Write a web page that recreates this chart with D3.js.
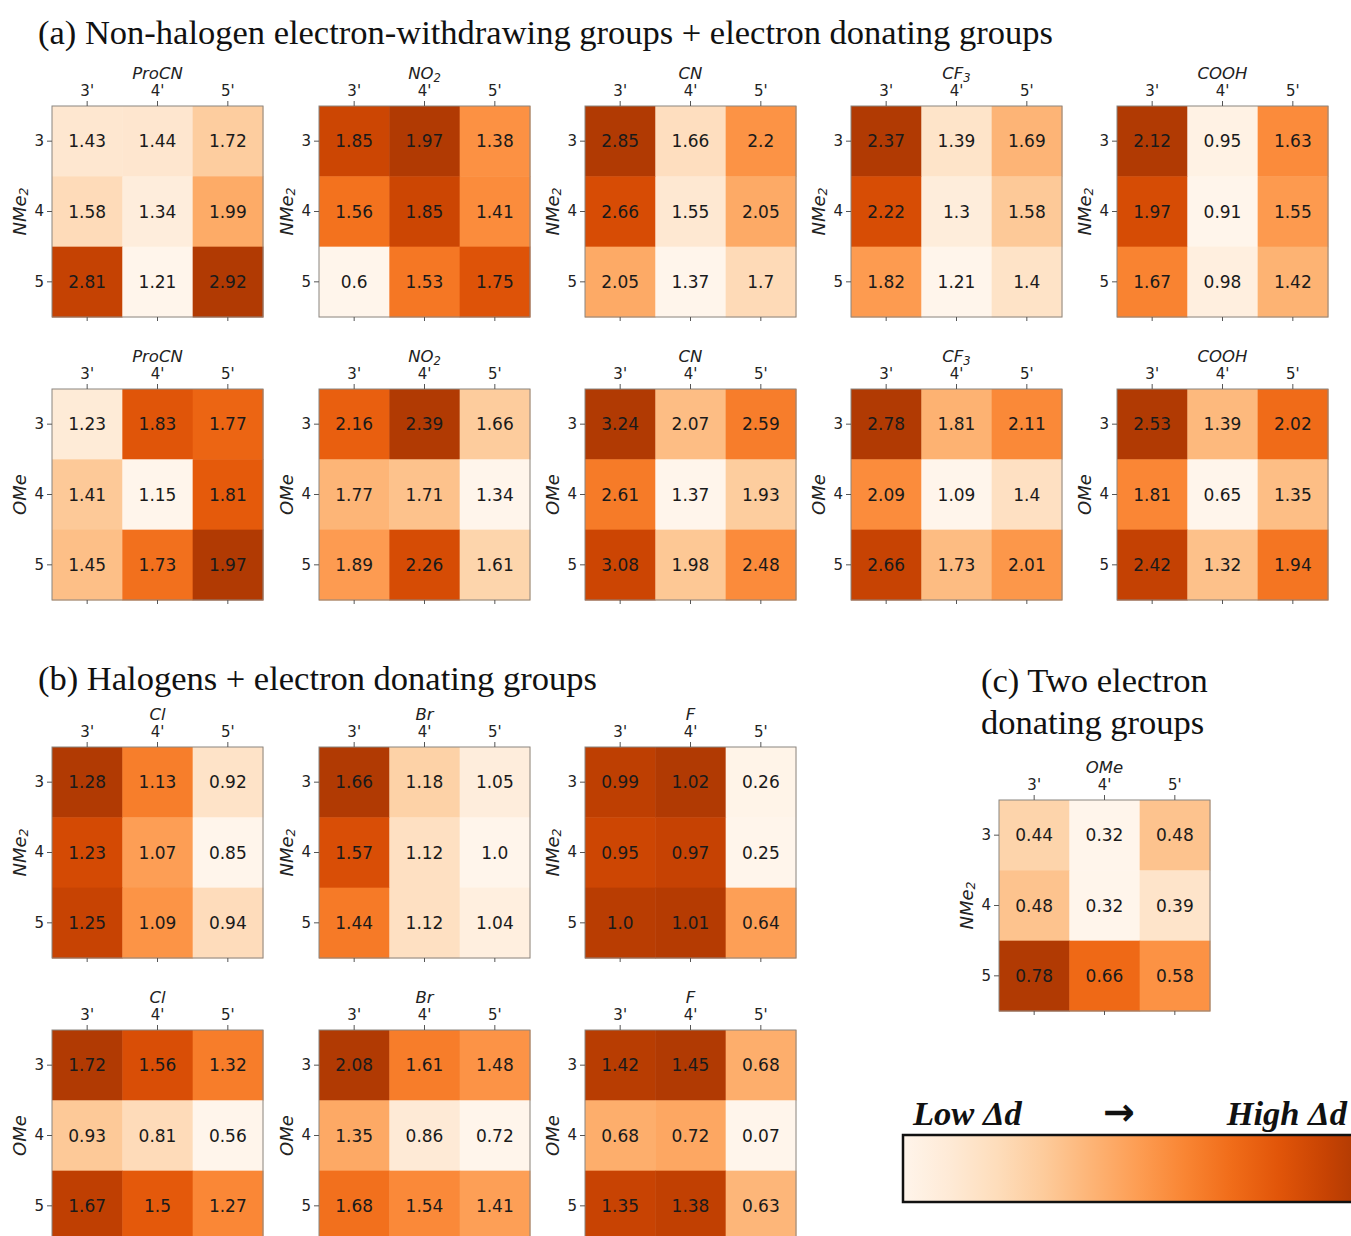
<!DOCTYPE html>
<html>
<head>
<meta charset="utf-8">
<script src="https://cdn.jsdelivr.net/npm/d3@7"></script>
<style>
  body { margin: 0; background: #fff; }
  svg { display: block; }
  .cell-text { font-family: "DejaVu Sans", sans-serif; font-size: 17px; fill: #1a1a1a; }
  .tick text { font-family: "DejaVu Sans", sans-serif; font-size: 15px; fill: #222; }
  .tick line { stroke: #555; }
  .domain { display: none; }
  .sub-title { font-family: "DejaVu Sans", sans-serif; font-style: italic; font-size: 16.5px; fill: #222; }
  .y-label { font-family: "DejaVu Sans", sans-serif; font-style: italic; font-size: 18px; fill: #222; }
  .sec-title { font-family: "Liberation Serif", "Times New Roman", serif; font-size: 34.5px; fill: #111; }
  .bar-label { font-family: "Liberation Serif", "Times New Roman", serif; font-size: 34.5px; font-weight: bold; font-style: italic; fill: #111; }
  .bar-arrow { font-family: "DejaVu Sans", sans-serif; font-size: 38px; font-weight: bold; fill: #111; }
</style>
</head>
<body>
<svg id="chart" width="1351" height="1236"></svg>
<script>
// Ring positions on each axis
const rowLabels = ["3", "4", "5"];
const colLabels = ["3'", "4'", "5'"];

// (a) Non-halogen electron-withdrawing groups, paired with NMe2
const procnNMe2 = [[1.43, 1.44, 1.72], [1.58, 1.34, 1.99], [2.81, 1.21, 2.92]];
const no2NMe2   = [[1.85, 1.97, 1.38], [1.56, 1.85, 1.41], [0.6, 1.53, 1.75]];
const cnNMe2    = [[2.85, 1.66, 2.2], [2.66, 1.55, 2.05], [2.05, 1.37, 1.7]];
const cf3NMe2   = [[2.37, 1.39, 1.69], [2.22, 1.3, 1.58], [1.82, 1.21, 1.4]];
const coohNMe2  = [[2.12, 0.95, 1.63], [1.97, 0.91, 1.55], [1.67, 0.98, 1.42]];

// (a) ... paired with OMe
const procnOMe = [[1.23, 1.83, 1.77], [1.41, 1.15, 1.81], [1.45, 1.73, 1.97]];
const no2OMe   = [[2.16, 2.39, 1.66], [1.77, 1.71, 1.34], [1.89, 2.26, 1.61]];
const cnOMe    = [[3.24, 2.07, 2.59], [2.61, 1.37, 1.93], [3.08, 1.98, 2.48]];
const cf3OMe   = [[2.78, 1.81, 2.11], [2.09, 1.09, 1.4], [2.66, 1.73, 2.01]];
const coohOMe  = [[2.53, 1.39, 2.02], [1.81, 0.65, 1.35], [2.42, 1.32, 1.94]];

// (b) Halogens, paired with NMe2 and OMe
const clNMe2 = [[1.28, 1.13, 0.92], [1.23, 1.07, 0.85], [1.25, 1.09, 0.94]];
const brNMe2 = [[1.66, 1.18, 1.05], [1.57, 1.12, 1.0], [1.44, 1.12, 1.04]];
const fNMe2  = [[0.99, 1.02, 0.26], [0.95, 0.97, 0.25], [1.0, 1.01, 0.64]];
const clOMe  = [[1.72, 1.56, 1.32], [0.93, 0.81, 0.56], [1.67, 1.5, 1.27]];
const brOMe  = [[2.08, 1.61, 1.48], [1.35, 0.86, 0.72], [1.68, 1.54, 1.41]];
const fOMe   = [[1.42, 1.45, 0.68], [0.68, 0.72, 0.07], [1.35, 1.38, 0.63]];

// (c) Two electron donating groups
const omeNMe2 = [[0.44, 0.32, 0.48], [0.48, 0.32, 0.39], [0.78, 0.66, 0.58]];

const svg = d3.select("#chart");
const SIZE = 211;
const SPAN = 0.85; // portion of the Oranges ramp in use

// Section headings
svg.append("text").attr("class", "sec-title").attr("x", 38).attr("y", 44)
  .text("(a) Non-halogen electron-withdrawing groups + electron donating groups");
svg.append("text").attr("class", "sec-title").attr("x", 38).attr("y", 690)
  .text("(b) Halogens + electron donating groups");
svg.append("text").attr("class", "sec-title").attr("x", 981).attr("y", 692)
  .text("(c) Two electron");
svg.append("text").attr("class", "sec-title").attr("x", 981).attr("y", 734)
  .text("donating groups");

// Label with an optional subscript, e.g. ["NO", "2"]
function labelWithSub(sel, parts) {
  sel.append("tspan").text(parts[0]);
  if (parts[1]) {
    sel.append("tspan").attr("baseline-shift", "-25%").attr("font-size", "0.7em").text(parts[1]);
  }
}

// Same number formatting as Python's str(round(v, 2))
function fmt(v) {
  const s = String(Math.round(v * 100) / 100);
  return s.includes(".") ? s : s + ".0";
}

function heatmap(x0, y0, data, title, ylab) {
  const g = svg.append("g").attr("transform", `translate(${x0},${y0})`);
  const x = d3.scaleBand().domain(colLabels).range([0, SIZE]);
  const y = d3.scaleBand().domain(rowLabels).range([0, SIZE]);
  const flat = data.flat();
  const color = d3.scaleSequential(t => d3.interpolateOranges(t * SPAN))
    .domain(d3.extent(flat));

  const cells = [];
  data.forEach((row, i) => row.forEach((v, j) => cells.push({ r: rowLabels[i], c: colLabels[j], v })));

  g.selectAll("rect.cell").data(cells).join("rect")
    .attr("class", "cell")
    .attr("x", d => x(d.c)).attr("y", d => y(d.r))
    .attr("width", x.bandwidth() + 0.5).attr("height", y.bandwidth() + 0.5)
    .attr("fill", d => color(d.v));

  g.selectAll("text.cell-text").data(cells).join("text")
    .attr("class", "cell-text")
    .attr("x", d => x(d.c) + x.bandwidth() / 2)
    .attr("y", d => y(d.r) + y.bandwidth() / 2)
    .attr("text-anchor", "middle").attr("dominant-baseline", "central")
    .text(d => fmt(d.v));

  // frame
  g.append("rect").attr("width", SIZE).attr("height", SIZE)
    .attr("fill", "none").attr("stroke", "#8a8580").attr("stroke-width", 1);

  g.append("g").call(d3.axisTop(x).tickSize(5).tickPadding(5));
  g.append("g").call(d3.axisLeft(y).tickSize(5).tickPadding(3));
  g.append("g").attr("transform", `translate(0,${SIZE})`)
    .call(d3.axisBottom(x).tickSize(4).tickFormat(""));

  const t = g.append("text").attr("class", "sub-title")
    .attr("x", SIZE / 2).attr("y", -27).attr("text-anchor", "middle");
  labelWithSub(t, title);

  const yl = g.append("text").attr("class", "y-label")
    .attr("transform", `translate(-31,${SIZE / 2}) rotate(-90)`)
    .attr("text-anchor", "middle").attr("dominant-baseline", "middle");
  labelWithSub(yl, ylab);
}

const colX = [52, 319, 585, 851, 1117];
const NME2 = ["NMe", "2"], OME = ["OMe"];

// (a)
heatmap(colX[0], 106, procnNMe2, ["ProCN"], NME2);
heatmap(colX[1], 106, no2NMe2, ["NO", "2"], NME2);
heatmap(colX[2], 106, cnNMe2, ["CN"], NME2);
heatmap(colX[3], 106, cf3NMe2, ["CF", "3"], NME2);
heatmap(colX[4], 106, coohNMe2, ["COOH"], NME2);

heatmap(colX[0], 389, procnOMe, ["ProCN"], OME);
heatmap(colX[1], 389, no2OMe, ["NO", "2"], OME);
heatmap(colX[2], 389, cnOMe, ["CN"], OME);
heatmap(colX[3], 389, cf3OMe, ["CF", "3"], OME);
heatmap(colX[4], 389, coohOMe, ["COOH"], OME);

// (b)
heatmap(colX[0], 747, clNMe2, ["Cl"], NME2);
heatmap(colX[1], 747, brNMe2, ["Br"], NME2);
heatmap(colX[2], 747, fNMe2, ["F"], NME2);
heatmap(colX[0], 1030, clOMe, ["Cl"], OME);
heatmap(colX[1], 1030, brOMe, ["Br"], OME);
heatmap(colX[2], 1030, fOMe, ["F"], OME);

// (c)
heatmap(999, 800, omeNMe2, ["OMe"], NME2);

// Colour key
const defs = svg.append("defs");
const grad = defs.append("linearGradient").attr("id", "oranges-key");
d3.range(0, 1.0001, 0.1).forEach(s => {
  grad.append("stop").attr("offset", s).attr("stop-color", d3.interpolateOranges(s * 0.88));
});
svg.append("rect").attr("x", 903).attr("y", 1135).attr("width", 470).attr("height", 67)
  .attr("fill", "url(#oranges-key)").attr("stroke", "#111").attr("stroke-width", 2.5);
svg.append("text").attr("class", "bar-label").attr("x", 913).attr("y", 1125).text("Low Δd");
svg.append("text").attr("class", "bar-arrow").attr("x", 1119).attr("y", 1125)
  .attr("text-anchor", "middle").text("→");
svg.append("text").attr("class", "bar-label").attr("x", 1347).attr("y", 1125)
  .attr("text-anchor", "end").text("High Δd");
</script>
</body>
</html>
